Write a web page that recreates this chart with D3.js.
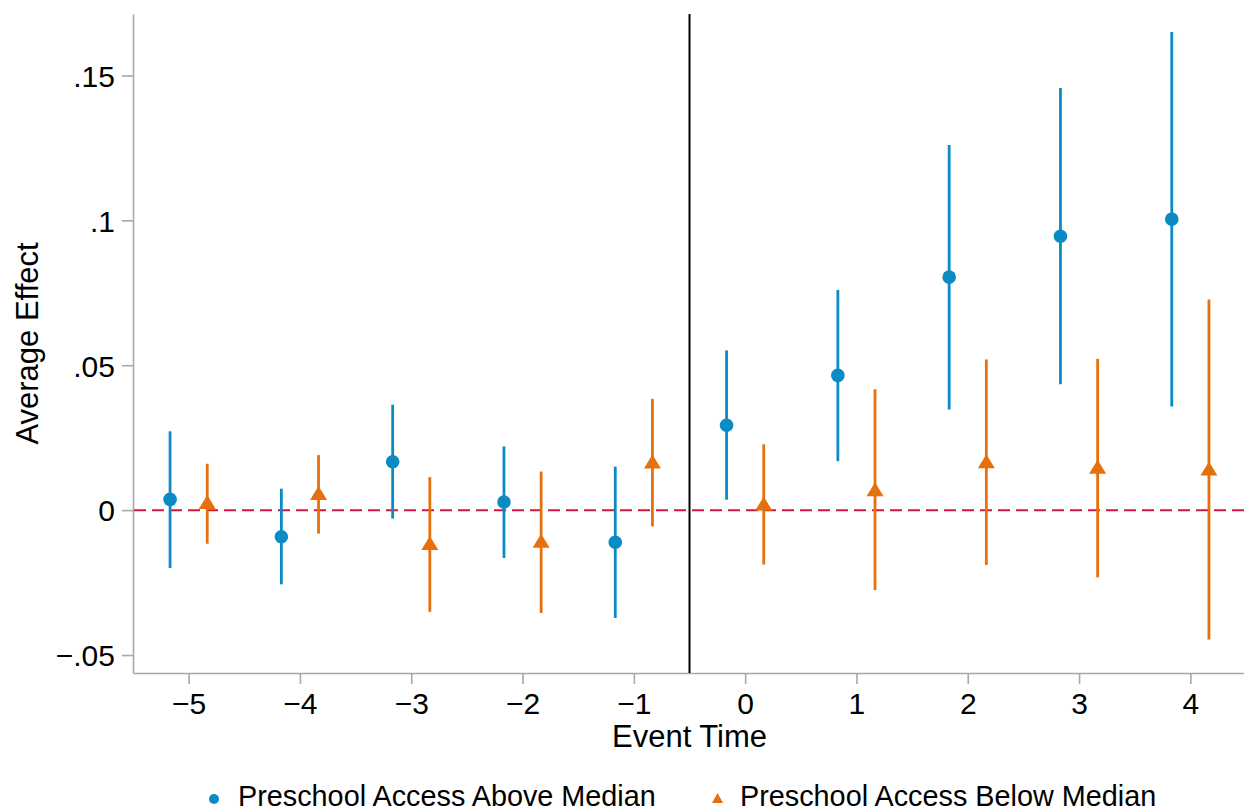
<!DOCTYPE html>
<html>
<head>
<meta charset="utf-8">
<script src="https://cdn.jsdelivr.net/npm/d3@7"></script>
<style>
  html, body { margin: 0; padding: 0; background: #fff; }
  svg { display: block; font-family: "Liberation Sans", Arial, Helvetica, sans-serif; }
</style>
</head>
<body>
<svg id="chart" width="1244" height="812"></svg>
<script>
// ---- data ----
const eventTime = [-5, -4, -3, -2, -1, 0, 1, 2, 3, 4];
const aboveCoef = [0.0037, -0.0092, 0.0167, 0.0028, -0.0111, 0.0293, 0.0465, 0.0804, 0.0945, 0.1004];
const aboveLo   = [-0.0200, -0.0256, -0.0029, -0.0165, -0.0372, 0.0036, 0.0169, 0.0347, 0.0434, 0.0358];
const aboveHi   = [0.0272, 0.0074, 0.0364, 0.0220, 0.0150, 0.0551, 0.0760, 0.1260, 0.1457, 0.1650];
const belowCoef = [0.0028, 0.0059, -0.0113, -0.0106, 0.0168, 0.0023, 0.0072, 0.0169, 0.0150, 0.0144];
const belowLo   = [-0.0116, -0.0081, -0.0351, -0.0355, -0.0056, -0.0188, -0.0276, -0.0189, -0.0232, -0.0446];
const belowHi   = [0.0160, 0.0190, 0.0114, 0.0133, 0.0384, 0.0227, 0.0417, 0.0520, 0.0522, 0.0727];
const xTicks = [-5, -4, -3, -2, -1, 0, 1, 2, 3, 4];
const yTicks = [-0.05, 0, 0.05, 0.1, 0.15];
const yTickLabels = ["\u2212.05", "0", ".05", ".1", ".15"];
const seriesNames = ["Preschool Access Above Median", "Preschool Access Below Median"];
const xTitle = "Event Time";
const yTitle = "Average Effect";

// ---- layout ----
const svg = d3.select("#chart");
const blue = "#0a8bc3", orange = "#e6700c", refRed = "#d2163f", axisGrey = "#a8a8a8";
const x = d3.scaleLinear().domain([-5.5, 4.5]).range([133, 1246]);
const y = d3.scaleLinear().domain([-0.0562, 0.1712]).range([673, 14]);
const offset = 0.167;

// axes
const yAxis = svg.append("g").attr("transform", "translate(133,0)")
  .call(d3.axisLeft(y).tickValues(yTicks).tickFormat((d, i) => yTickLabels[i]).tickSize(11).tickSizeOuter(0).tickPadding(7));
const xAxis = svg.append("g").attr("transform", "translate(0,673)")
  .call(d3.axisBottom(x).tickValues(xTicks).tickFormat(d => d < 0 ? "\u2212" + Math.abs(d) : String(d)).tickSize(11).tickSizeOuter(0).tickPadding(8));
[yAxis, xAxis].forEach(g => {
  g.select(".domain").attr("stroke", axisGrey).attr("stroke-width", 1.6);
  g.selectAll(".tick line").attr("stroke", axisGrey).attr("stroke-width", 1.6);
  g.selectAll(".tick text").attr("fill", "#000").style("font-size", "30px")
    .style("font-family", "'Liberation Sans', Arial, sans-serif");
});
yAxis.selectAll(".tick text").attr("dy", "0.36em");
xAxis.selectAll(".tick text").attr("dy", "0.72em");

// axis titles
svg.append("text").attr("x", x(-0.5)).attr("y", 747).attr("text-anchor", "middle")
  .style("font-size", "31px").text(xTitle);
svg.append("text").attr("transform", `translate(38,${(y.range()[0] + y.range()[1]) / 2}) rotate(-90)`)
  .attr("text-anchor", "middle").style("font-size", "31px").text(yTitle);

// reference lines
svg.append("line").attr("x1", 134).attr("x2", 1244).attr("y1", y(0)).attr("y2", y(0))
  .attr("stroke", refRed).attr("stroke-width", 2).attr("stroke-dasharray", "12,6");
svg.append("line").attr("x1", x(-0.5)).attr("x2", x(-0.5)).attr("y1", y.range()[1]).attr("y2", y.range()[0])
  .attr("stroke", "#000").attr("stroke-width", 2);

// triangle path centered on bbox
function triPath(cx, cy, w, h) {
  return `M${cx},${cy - h / 2}L${cx + w / 2},${cy + h / 2}L${cx - w / 2},${cy + h / 2}Z`;
}

// above median: bars + circles
const gA = svg.append("g");
gA.selectAll("line").data(eventTime).join("line")
  .attr("x1", (d) => x(d - offset)).attr("x2", (d) => x(d - offset))
  .attr("y1", (d, i) => y(aboveLo[i])).attr("y2", (d, i) => y(aboveHi[i]))
  .attr("stroke", blue).attr("stroke-width", 2.8);
gA.selectAll("circle").data(eventTime).join("circle")
  .attr("cx", (d) => x(d - offset)).attr("cy", (d, i) => y(aboveCoef[i]))
  .attr("r", 6.8).attr("fill", blue);

// below median: bars + triangles
const gB = svg.append("g");
gB.selectAll("line").data(eventTime).join("line")
  .attr("x1", (d) => x(d + offset)).attr("x2", (d) => x(d + offset))
  .attr("y1", (d, i) => y(belowLo[i])).attr("y2", (d, i) => y(belowHi[i]))
  .attr("stroke", orange).attr("stroke-width", 2.8);
gB.selectAll("path").data(eventTime).join("path")
  .attr("d", (d, i) => triPath(x(d + offset), y(belowCoef[i]), 17, 14))
  .attr("fill", orange);

// legend
const legend = svg.append("g");
legend.append("circle").attr("cx", 214).attr("cy", 799).attr("r", 5).attr("fill", blue);
legend.append("text").attr("x", 238).attr("y", 806).style("font-size", "28.8px").text(seriesNames[0]);
legend.append("path").attr("d", triPath(717.5, 798, 11, 10)).attr("fill", orange);
legend.append("text").attr("x", 740).attr("y", 806).style("font-size", "28.8px").text(seriesNames[1]);
</script>
</body>
</html>
